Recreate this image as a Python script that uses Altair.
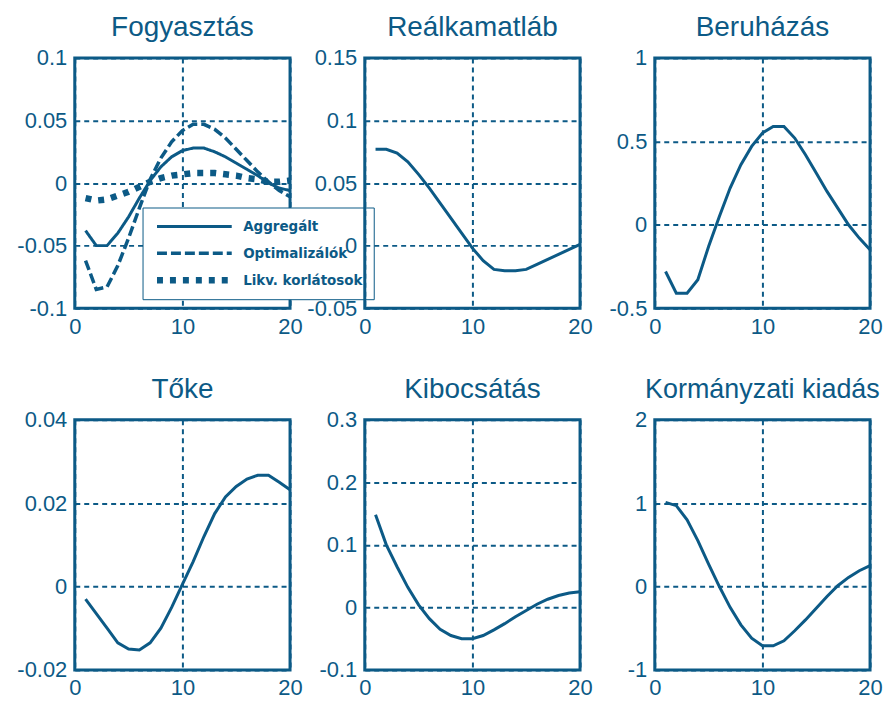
import altair as alt
import pandas as pd

COLOR = "#0c5a86"
FONT = "Liberation Sans"

X = list(range(1, 21))

# Fogyasztás (three series)
SERIES = ["Aggregált", "Optimalizálók", "Likv. korlátosok"]
fogy_aggr = [-0.038, -0.050, -0.050, -0.040, -0.027, -0.012, 0.002, 0.013, 0.021, 0.026,
             0.028, 0.028, 0.025, 0.021, 0.016, 0.011, 0.006, 0.000, -0.004, -0.006]
fogy_opt = [-0.062, -0.085, -0.083, -0.066, -0.044, -0.020, 0.003, 0.020, 0.033, 0.042,
            0.047, 0.047, 0.043, 0.036, 0.027, 0.018, 0.009, 0.001, -0.006, -0.011]
fogy_likv = [-0.012, -0.014, -0.013, -0.010, -0.007, -0.003, 0.001, 0.004, 0.006, 0.007,
             0.008, 0.008, 0.008, 0.007, 0.006, 0.004, 0.003, 0.001, 0.001, 0.002]

realkamat = [0.077, 0.077, 0.074, 0.067, 0.057, 0.046, 0.034, 0.022, 0.010, -0.002,
             -0.012, -0.019, -0.020, -0.020, -0.019, -0.015, -0.011, -0.007, -0.003, 0.001]
beruhazas = [-0.28, -0.41, -0.41, -0.33, -0.13, 0.05, 0.22, 0.36, 0.47, 0.55,
             0.59, 0.59, 0.52, 0.42, 0.31, 0.20, 0.10, 0.00, -0.08, -0.15]
toke = [-0.003, -0.0065, -0.010, -0.0135, -0.015, -0.0152, -0.0135, -0.010, -0.005, 0.0005,
        0.006, 0.012, 0.0175, 0.0215, 0.024, 0.0258, 0.0267, 0.0267, 0.025, 0.0232]
kibocsatas = [0.148, 0.100, 0.065, 0.032, 0.004, -0.018, -0.035, -0.045, -0.050, -0.050,
              -0.045, -0.036, -0.026, -0.015, -0.005, 0.005, 0.013, 0.019, 0.023, 0.025]
kormanyzati = [1.01, 0.97, 0.80, 0.55, 0.27, 0.00, -0.25, -0.46, -0.62, -0.71,
               -0.71, -0.65, -0.53, -0.40, -0.26, -0.12, 0.01, 0.11, 0.19, 0.25]

TITLES = ["Fogyasztás", "Reálkamatláb", "Beruházás", "Tőke", "Kibocsátás", "Kormányzati kiadás"]
TITLE_SIZES = [28, 28, 28, 28, 28, 27]
Y_TICKS = [
    [-0.1, -0.05, 0, 0.05, 0.1],
    [-0.05, 0, 0.05, 0.1, 0.15],
    [-0.5, 0, 0.5, 1],
    [-0.02, 0, 0.02, 0.04],
    [-0.1, 0, 0.1, 0.2, 0.3],
    [-1, 0, 1, 2],
]
X_TICKS = [0, 10, 20]

W, H = 216, 251


def axes(yticks):
    xenc = alt.X("t:Q", title=None,
                 scale=alt.Scale(domain=[0, 20], nice=False, zero=False),
                 axis=alt.Axis(values=X_TICKS, labelExpr="'' + datum.value"))
    yenc = alt.Y("v:Q", title=None,
                 scale=alt.Scale(domain=[yticks[0], yticks[-1]], nice=False, zero=False),
                 axis=alt.Axis(values=yticks, labelExpr="'' + datum.value"))
    return xenc, yenc


def single(values, i):
    df = pd.DataFrame({"t": X, "v": values})
    xenc, yenc = axes(Y_TICKS[i])
    return (alt.Chart(df, title=alt.TitleParams(TITLES[i], fontSize=TITLE_SIZES[i]))
            .mark_line(color=COLOR, strokeWidth=3)
            .encode(x=xenc, y=yenc)
            .properties(width=W, height=H))


rows = []
for name, vals in zip(SERIES, [fogy_aggr, fogy_opt, fogy_likv]):
    for t, v in zip(X, vals):
        rows.append({"t": t, "v": v, "s": name})
df1 = pd.DataFrame(rows)

leg = alt.Legend(orient="none", legendX=68, legendY=150, title=None,
                 symbolType="stroke", symbolSize=5625, symbolStrokeColor=COLOR,
                 clipHeight=16,
                 labelFont="Liberation Sans Narrow, DejaVu Sans Condensed, Liberation Sans",
                 labelFontSize=15, labelFontWeight="bold", labelColor=COLOR,
                 fillColor="white", strokeColor=COLOR, padding=11, rowPadding=11,
                 labelOffset=8, direction="vertical")

x1, y1 = axes(Y_TICKS[0])
p1 = (alt.Chart(df1, title=alt.TitleParams(TITLES[0], fontSize=TITLE_SIZES[0]))
      .mark_line(color=COLOR)
      .encode(x=x1, y=y1,
              strokeDash=alt.StrokeDash("s:N", sort=SERIES,
                                        scale=alt.Scale(type="ordinal", domain=SERIES,
                                                        range=[[1, 0], [10, 4], [6, 7]]),
                                        legend=leg),
              strokeWidth=alt.StrokeWidth("s:N", sort=SERIES,
                                          scale=alt.Scale(type="ordinal", domain=SERIES,
                                                          range=[3, 3.5, 6.5]),
                                          legend=leg),
              detail="s:N")
      .properties(width=W, height=H))

p2 = single(realkamat, 1)
p3 = single(beruhazas, 2)
p4 = single(toke, 3)
p5 = single(kibocsatas, 4)
p6 = single(kormanyzati, 5)

chart = (alt.concat(p1, p2, p3, p4, p5, p6, columns=3,
                    spacing=alt.RowColnumber(row=112, column=75), bounds="flush")
         .resolve_scale(strokeDash="independent", strokeWidth="independent")
         .resolve_legend(strokeDash="independent", strokeWidth="independent")
         .properties(padding={"top": 3, "left": 7, "right": 0, "bottom": 0})
         .configure_view(stroke=COLOR, strokeWidth=3)
         .configure_axis(labelFont=FONT, labelFontSize=22, labelColor=COLOR,
                         domain=False, ticks=False, labelPadding=8, labelFlush=False,
                         grid=True, gridColor=COLOR, gridDash=[5, 4], gridWidth=2, gridOpacity=1)
         .configure_title(font=FONT, fontWeight="normal", color=COLOR, offset=5))

chart.save("out.html", embed_options={"renderer": "svg", "actions": False})
